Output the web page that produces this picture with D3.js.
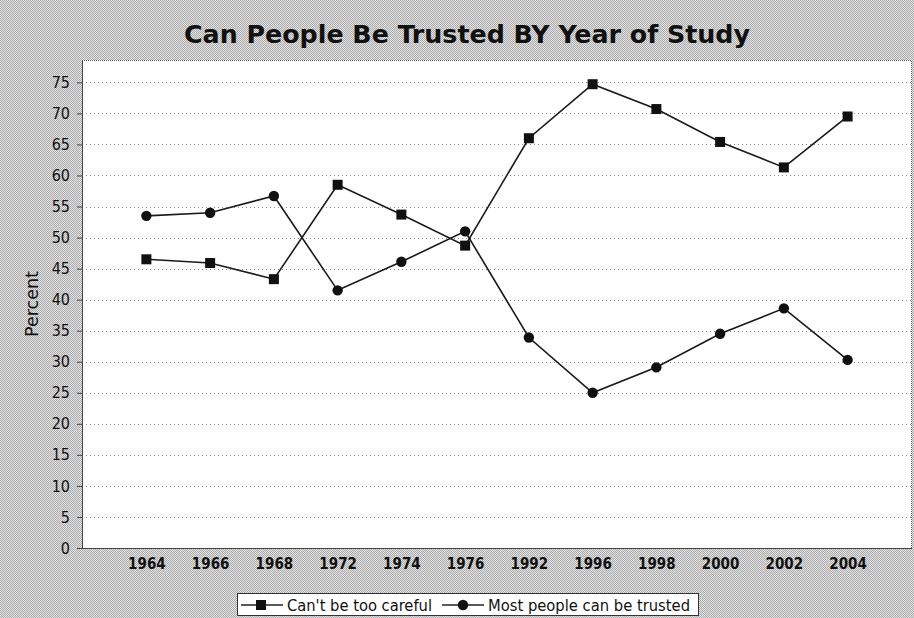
<!DOCTYPE html>
<html lang="en">
<head>
    <meta charset="UTF-8">
    <title>Can People Be Trusted BY Year of Study</title>
    <script src="https://d3js.org/d3.v7.min.js"></script>
    <style>
        body { margin: 0; background: #c6c6c6; }
        svg { display: block; }
        text { font-family: "DejaVu Sans Condensed", "DejaVu Sans", sans-serif; fill: #111; }
    </style>
</head>
<body>
    <svg id="chart" width="914" height="618"></svg>
    <script>
        // Data
        const years = ["1964", "1966", "1968", "1972", "1974", "1976", "1992", "1996", "1998", "2000", "2002", "2004"];
        const cantBeTooCareful = [46.5, 45.9, 43.3, 58.5, 53.7, 48.7, 66.0, 74.7, 70.7, 65.4, 61.3, 69.5];
        const mostCanBeTrusted = [53.5, 54.0, 56.7, 41.5, 46.1, 51.0, 33.9, 25.0, 29.1, 34.5, 38.6, 30.3];
        const yTicks = [0, 5, 10, 15, 20, 25, 30, 35, 40, 45, 50, 55, 60, 65, 70, 75];
        const seriesNames = ["Can't be too careful", "Most people can be trusted"];

        const svg = d3.select("#chart");
        const width = 914, height = 618;
        const plot = { left: 82, top: 60, right: 912, bottom: 548 };

        // dithered grey background like the original screenshot
        const defs = svg.append("defs");
        const pat = defs.append("pattern")
            .attr("id", "dither")
            .attr("width", 2).attr("height", 2)
            .attr("patternUnits", "userSpaceOnUse");
        pat.append("rect").attr("width", 2).attr("height", 2).attr("fill", "#e4e4e4");
        pat.append("rect").attr("width", 1).attr("height", 1).attr("fill", "#aaaaaa");
        pat.append("rect").attr("x", 1).attr("y", 1).attr("width", 1).attr("height", 1).attr("fill", "#aaaaaa");

        svg.append("rect").attr("width", width).attr("height", height).attr("fill", "url(#dither)");

        // title
        svg.append("text")
            .attr("x", 467).attr("y", 43)
            .attr("text-anchor", "middle")
            .attr("font-size", 24).attr("font-weight", "bold")
            .attr("textLength", 566).attr("lengthAdjust", "spacingAndGlyphs")
            .text("Can People Be Trusted BY Year of Study");

        const x = d3.scalePoint()
            .domain(years)
            .range([plot.left, plot.right])
            .padding(1.01);

        const y = d3.scaleLinear()
            .domain([0, 78.6])
            .range([plot.bottom, plot.top]);

        // plot background
        svg.append("rect")
            .attr("x", plot.left).attr("y", plot.top)
            .attr("width", plot.right - plot.left).attr("height", plot.bottom - plot.top)
            .attr("fill", "#fff");

        // gridlines
        svg.append("g")
            .selectAll("line")
            .data(yTicks.filter(d => d > 0))
            .join("line")
            .attr("x1", plot.left).attr("x2", plot.right)
            .attr("y1", d => Math.round(y(d)) + 0.5).attr("y2", d => Math.round(y(d)) + 0.5)
            .attr("stroke", "#8a8a8a")
            .attr("stroke-width", 1)
            .attr("stroke-dasharray", "1,3");

        // top / right dotted border
        svg.append("path")
            .attr("d", `M${plot.left},${plot.top + 0.5}H${plot.right - 0.5}V${plot.bottom}`)
            .attr("fill", "none")
            .attr("stroke", "#555")
            .attr("stroke-dasharray", "1,1");

        // y axis
        const yAxis = svg.append("g")
            .attr("transform", `translate(${plot.left},0)`)
            .call(d3.axisLeft(y).tickValues(yTicks).tickSize(5).tickPadding(7));
        yAxis.select(".domain").attr("stroke", "#444").attr("d", `M0.5,${plot.top}V${plot.bottom}`);
        yAxis.selectAll(".tick line").attr("stroke", "#444");
        yAxis.selectAll(".tick text")
            .attr("font-size", 16)
            .attr("font-family", "\"DejaVu Sans Condensed\", sans-serif")
            .attr("fill", "#111");

        // x axis
        const xAxis = svg.append("g")
            .attr("transform", `translate(0,${plot.bottom})`)
            .call(d3.axisBottom(x).tickSize(0).tickPadding(10));
        xAxis.select(".domain").attr("stroke", "#444").attr("d", `M${plot.left},0.5H${plot.right}`);
        xAxis.selectAll(".tick text")
            .attr("font-size", 15)
            .attr("font-weight", "bold")
            .attr("font-family", "\"DejaVu Sans Condensed\", sans-serif")
            .attr("fill", "#111");

        // y label
        svg.append("text")
            .attr("transform", `translate(38,${(plot.top + plot.bottom) / 2}) rotate(-90)`)
            .attr("text-anchor", "middle")
            .attr("font-size", 17)
            .attr("textLength", 66).attr("lengthAdjust", "spacingAndGlyphs")
            .text("Percent");

        const line = d3.line()
            .x((d, i) => x(years[i]))
            .y(d => y(d));

        // series lines
        [cantBeTooCareful, mostCanBeTrusted].forEach(vals => {
            svg.append("path")
                .datum(vals)
                .attr("d", line)
                .attr("fill", "none")
                .attr("stroke", "#1a1a1a")
                .attr("stroke-width", 1.6);
        });

        // markers
        svg.append("g")
            .selectAll("rect")
            .data(cantBeTooCareful)
            .join("rect")
            .attr("x", (d, i) => x(years[i]) - 5)
            .attr("y", d => y(d) - 5)
            .attr("width", 10).attr("height", 10)
            .attr("fill", "#111");

        svg.append("g")
            .selectAll("circle")
            .data(mostCanBeTrusted)
            .join("circle")
            .attr("cx", (d, i) => x(years[i]))
            .attr("cy", d => y(d))
            .attr("r", 5.2)
            .attr("fill", "#111");

        // legend
        const legend = svg.append("g");
        legend.append("rect")
            .attr("x", 237.5).attr("y", 593.5)
            .attr("width", 461).attr("height", 22)
            .attr("fill", "#fff")
            .attr("stroke", "#333");

        legend.append("line")
            .attr("x1", 241).attr("x2", 283).attr("y1", 605).attr("y2", 605)
            .attr("stroke", "#222").attr("stroke-width", 1.5);
        legend.append("rect")
            .attr("x", 256).attr("y", 600).attr("width", 10).attr("height", 10)
            .attr("fill", "#111");
        legend.append("text")
            .attr("x", 287).attr("y", 611)
            .attr("font-size", 16)
            .attr("textLength", 145).attr("lengthAdjust", "spacingAndGlyphs")
            .text(seriesNames[0]);

        legend.append("line")
            .attr("x1", 442).attr("x2", 484).attr("y1", 605).attr("y2", 605)
            .attr("stroke", "#222").attr("stroke-width", 1.5);
        legend.append("circle")
            .attr("cx", 463).attr("cy", 605).attr("r", 5.2)
            .attr("fill", "#111");
        legend.append("text")
            .attr("x", 488).attr("y", 611)
            .attr("font-size", 16)
            .attr("textLength", 202).attr("lengthAdjust", "spacingAndGlyphs")
            .text(seriesNames[1]);
    </script>
</body>
</html>
